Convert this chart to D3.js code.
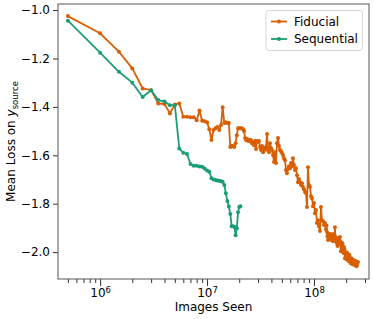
<!DOCTYPE html>
<html>
<head>
<meta charset="utf-8">
<script src="https://cdn.jsdelivr.net/npm/d3@7"></script>
<style>
body { margin: 0; background: #fff; }
text { font-family: "DejaVu Sans", sans-serif; }
</style>
</head>
<body>
<div class="visHolder"></div>
<script>
var W = 374, H = 319;
var margin = {left: 58, top: 4, right: 5, bottom: 40};

var seriesNames = ['Fiducial', 'Sequential'];
var seriesColors = ['#d95f02', '#1b9e77'];

// images seen, in millions
var seqImagesM = [0.5, 1, 1.5, 2, 2.5, 3, 3.5, 4, 4.5, 5,
  5.5, 6, 6.5, 7, 7.5, 8, 8.5, 9, 9.5, 10,
  10.5, 11, 11.5, 12, 12.5, 13, 13.5, 14, 14.5, 15,
  15.5, 16, 16.5, 17, 17.5, 18, 18.5, 19, 19.5, 20, 20.5];
var seqLoss = [-1.044, -1.176, -1.255, -1.300, -1.359, -1.331, -1.372, -1.378, -1.393, -1.393,
  -1.572, -1.589, -1.595, -1.636, -1.643, -1.643, -1.646, -1.647, -1.655, -1.663,
  -1.668, -1.695, -1.700, -1.702, -1.704, -1.705, -1.707, -1.709, -1.723, -1.757,
  -1.789, -1.812, -1.843, -1.893, -1.893, -1.895, -1.930, -1.901, -1.835, -1.814, -1.810];

var fidImagesM = [0.5, 1, 1.5, 2, 2.5, 3, 3.5, 4, 4.5, 5,
  5.5, 6, 6.5, 7, 7.5, 8, 8.5, 9, 9.5, 10,
  10.5, 11, 11.5, 12, 12.5, 13, 13.5, 14, 14.5, 15,
  15.5, 16, 16.5, 17, 17.5, 18, 18.5, 19, 19.5, 20, 20.5,
  21.2, 21.7, 22.2, 22.7, 23.1, 23.7, 24.2, 24.7, 25.2, 25.8,
  26.3, 26.9, 27.5, 28.1, 28.7, 29.3, 30.0, 30.6, 31.3, 32.0,
  32.7, 33.4, 34.1, 34.8, 35.6, 36.4, 37.2, 38.0, 38.8, 39.6,
  40.5, 41.4, 42.3, 43.2, 44.1, 45.1, 46.1, 47.1, 48.1, 49.2,
  50.2, 51.3, 52.4, 53.6, 54.7, 55.9, 57.1, 58.4, 59.7, 61.0,
  62.3, 63.6, 65.0, 66.4, 67.9, 69.4, 70.9, 72.4, 74.0, 75.6,
  77.3, 78.9, 80.6, 82.4, 84.2, 86.0, 87.9, 89.8, 91.7, 93.8,
  95.8, 97.9, 100, 102.2, 104.4, 106.7, 109.0, 111.4, 113.8, 116.3,
  118.8, 121.4, 124.0, 126.7, 129.5, 132.3, 135.2, 138.1, 141.1, 144.2,
  147.3, 150.5, 153.8, 157.1, 160.5, 164.1, 167.6, 171.3, 175.0, 178.8,
  182.7, 186.7, 190.8, 194.9, 199.1, 203.4, 207.9, 212.4, 217.0, 221.7,
  226.5, 231.5, 236.5, 241.6, 246.9, 252.3, 257.7];
var fidLoss = [-1.025, -1.096, -1.172, -1.241, -1.324, -1.331, -1.386, -1.388, -1.427, -1.390,
  -1.386, -1.441, -1.441, -1.443, -1.443, -1.455, -1.415, -1.457, -1.459, -1.463,
  -1.492, -1.537, -1.496, -1.488, -1.483, -1.496, -1.475, -1.401, -1.467, -1.463,
  -1.467, -1.467, -1.566, -1.562, -1.562, -1.566, -1.550, -1.517, -1.488, -1.488, -1.488,
  -1.488, -1.492, -1.500, -1.529, -1.537, -1.533, -1.541, -1.537, -1.541, -1.537,
  -1.550, -1.545, -1.558, -1.541, -1.574, -1.541, -1.545, -1.541, -1.566, -1.578,
  -1.562, -1.587, -1.570, -1.578, -1.566, -1.512, -1.578, -1.587, -1.550, -1.570,
  -1.578, -1.599, -1.628, -1.587, -1.632, -1.550, -1.529, -1.562, -1.578, -1.583,
  -1.591, -1.599, -1.612, -1.620, -1.661, -1.674, -1.657, -1.645, -1.653, -1.632,
  -1.645, -1.612, -1.640, -1.661, -1.653, -1.682, -1.711, -1.698, -1.711, -1.723,
  -1.715, -1.731, -1.740, -1.752, -1.756, -1.814, -1.649, -1.723, -1.731, -1.769,
  -1.777, -1.810, -1.797, -1.839, -1.826, -1.880, -1.868, -1.893, -1.913, -1.814,
  -1.868, -1.872, -1.888, -1.880, -1.905, -1.917, -1.950, -1.934, -1.938, -1.942,
  -1.930, -1.955, -1.934, -1.897, -1.955, -1.963, -1.963, -1.950, -1.938, -1.996,
  -1.975, -1.992, -1.979, -2.025, -2.000, -2.021, -2.017, -2.029, -2.025, -2.041,
  -2.033, -2.045, -2.037, -2.054, -2.041, -2.054, -2.041];

// extra fiducial readings in the dense tail (merged by x below)
var fidTailImagesM = [130.9, 133.8, 136.7, 139.6, 142.7, 145.8, 148.9, 152.2, 155.5, 158.8,
  162.3, 165.9, 169.5, 173.1, 176.9, 180.8, 184.7, 188.8, 192.9, 197.0,
  201.2, 205.6, 210.1, 214.7, 219.4, 224.1, 229.0, 234.0, 239.1, 244.2, 249.6, 255.0];
var fidTailLoss = [-1.890, -1.934, -1.925, -1.946, -1.925, -1.950, -1.942, -1.925, -1.946, -1.938,
  -1.946, -1.975, -1.942, -1.967, -1.955, -1.983, -1.963, -2.004, -1.988, -2.008,
  -2.029, -2.004, -2.037, -2.012, -2.045, -2.025, -2.050, -2.033, -2.050, -2.037, -2.058, -2.045];

var yTicks = [-1.0, -1.2, -1.4, -1.6, -1.8, -2.0];
var xMajorExp = [6, 7, 8];
var xLabel = 'Images Seen';

var svg = d3.select('.visHolder')
  .append('svg')
  .attr('width', W)
  .attr('height', H);

var x = d3.scaleLog()
  .domain([4.04e5, 3.27e8])
  .range([margin.left, W - margin.right]);
var y = d3.scaleLinear()
  .domain([-0.975, -2.111])
  .range([margin.top, H - margin.bottom]);

var plotBottom = H - margin.bottom;

// minor x ticks
var minorTicks = [];
[1e5, 1e6, 1e7, 1e8].forEach(function (base) {
  for (var k = 2; k <= 9; k++) {
    var v = k * base;
    if (v > x.domain()[0] && v < x.domain()[1]) minorTicks.push(v);
  }
});

svg.append('g')
  .attr('transform', 'translate(0,' + plotBottom + ')')
  .call(d3.axisBottom(x).tickValues(minorTicks).tickSize(4).tickFormat(''))
  .call(function (g) { g.select('.domain').remove(); });

var xAxis = svg.append('g')
  .attr('id', 'x-axis')
  .attr('transform', 'translate(0,' + plotBottom + ')')
  .call(d3.axisBottom(x).tickValues(xMajorExp.map(function (e) { return Math.pow(10, e); }))
    .tickSize(7).tickFormat(''));
xAxis.select('.domain').remove();

xAxis.selectAll('.tick').each(function (d) {
  var t = d3.select(this).append('text')
    .attr('y', 18)
    .attr('fill', '#000')
    .style('font-size', '12px')
    .attr('text-anchor', 'middle');
  t.append('tspan').text('10');
  t.append('tspan').attr('dy', '-0.45em').style('font-size', '8.5px')
    .text(Math.round(Math.log10(d)));
});

var yAxis = svg.append('g')
  .attr('id', 'y-axis')
  .attr('transform', 'translate(' + margin.left + ',0)')
  .call(d3.axisLeft(y).tickValues(yTicks).tickSize(5).tickPadding(3).tickFormat(d3.format('.1f')));
yAxis.select('.domain').remove();
yAxis.selectAll('text').style('font-size', '12px').attr('fill', '#000');

svg.selectAll('.tick line').attr('stroke', '#333');

// frame
svg.append('rect')
  .attr('x', margin.left)
  .attr('y', margin.top)
  .attr('width', W - margin.left - margin.right)
  .attr('height', H - margin.top - margin.bottom)
  .attr('fill', 'none')
  .attr('stroke', '#555')
  .attr('stroke-width', 1);

var fidPts = fidImagesM.map(function (v, i) { return [v, fidLoss[i]]; })
  .concat(fidTailImagesM.map(function (v, i) { return [v, fidTailLoss[i]]; }))
  .sort(function (a, b) { return a[0] - b[0]; });
var seqPts = seqImagesM.map(function (v, i) { return [v, seqLoss[i]]; });

var series = [
  {name: seriesNames[0], color: seriesColors[0], pts: fidPts},
  {name: seriesNames[1], color: seriesColors[1], pts: seqPts}
];

var line = d3.line()
  .x(function (d) { return x(d[0] * 1e6); })
  .y(function (d) { return y(d[1]); });

series.forEach(function (s) {
  svg.append('path')
    .datum(s.pts)
    .attr('fill', 'none')
    .attr('stroke', s.color)
    .attr('stroke-width', 1.8)
    .attr('stroke-linejoin', 'round')
    .attr('d', line);
  svg.append('g')
    .selectAll('circle')
    .data(s.pts)
    .enter()
    .append('circle')
    .attr('cx', function (d) { return x(d[0] * 1e6); })
    .attr('cy', function (d) { return y(d[1]); })
    .attr('r', 2)
    .attr('fill', s.color);
});

// axis labels
svg.append('text')
  .attr('x', (margin.left + W - margin.right) / 2)
  .attr('y', 311)
  .attr('text-anchor', 'middle')
  .style('font-size', '12px')
  .text(xLabel);

var yl = svg.append('text')
  .attr('transform', 'translate(15,' + ((margin.top + plotBottom) / 2) + ') rotate(-90)')
  .attr('text-anchor', 'middle')
  .style('font-size', '12px');
yl.append('tspan').text('Mean Loss on ');
yl.append('tspan').style('font-style', 'italic').text('y');
yl.append('tspan').attr('dy', '0.3em').style('font-size', '8.5px').text('source');

// legend
var legend = svg.append('g').attr('id', 'legend');
legend.append('rect')
  .attr('x', 266)
  .attr('y', 10.5)
  .attr('width', 96.5)
  .attr('height', 40)
  .attr('rx', 3)
  .attr('fill', '#fff')
  .attr('fill-opacity', 0.8)
  .attr('stroke', '#d6d6d6');

var items = legend.selectAll('.legend-item')
  .data(series)
  .enter()
  .append('g')
  .attr('class', 'legend-item')
  .attr('transform', function (d, i) { return 'translate(0,' + (21.5 + i * 17.5) + ')'; });
items.append('line')
  .attr('x1', 271).attr('x2', 287)
  .attr('stroke', function (d) { return d.color; })
  .attr('stroke-width', 1.8);
items.append('circle')
  .attr('cx', 279).attr('r', 2)
  .attr('fill', function (d) { return d.color; });
items.append('text')
  .attr('x', 294)
  .attr('y', 4.3)
  .style('font-size', '12px')
  .text(function (d) { return d.name; });
</script>
</body>
</html>
